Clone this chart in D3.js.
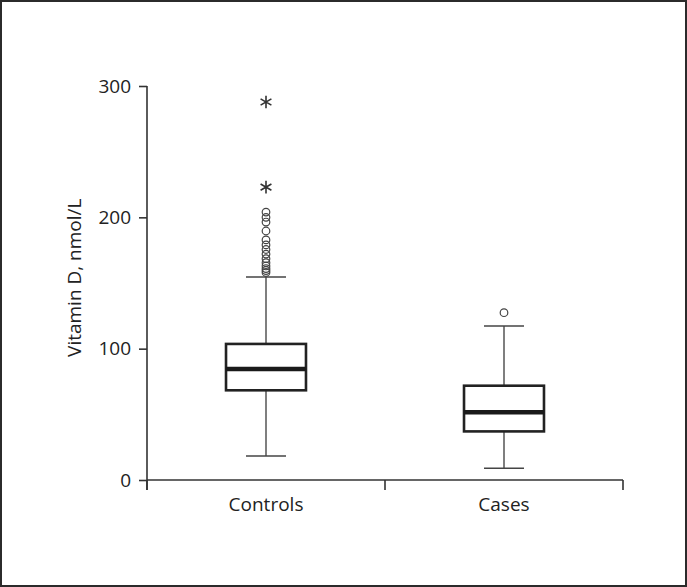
<!DOCTYPE html>
<html>
<head>
<meta charset="utf-8">
<script src="https://cdn.jsdelivr.net/npm/d3@7"></script>
<style>
html,body{margin:0;padding:0;background:#fff;}
svg{display:block;}
text{font-family:"Open Sans","Noto Sans",sans-serif;fill:#222;}
</style>
</head>
<body>
<svg id="chart" width="687" height="587"></svg>
<script>
const categories = ["Controls", "Cases"];
const q1Values = [68.3, 37.0];
const medianValues = [84.5, 51.5];
const q3Values = [103.6, 71.8];
const whiskerLowValues = [18.3, 8.9];
const whiskerHighValues = [154.6, 117.3];
const outlierValues = [
  [204, 200, 196.4, 189.6, 182.8, 179, 175.5, 172, 168.5, 165.5, 163, 161, 159.5, 158],
  [127.4]
];
const extremeValues = [
  [287.8, 223],
  []
];
const yTicks = [0, 100, 200, 300];
const yLabel = "Vitamin D, nmol/L";

const svg = d3.select("#chart");
const W = 687, H = 587;
const FONT = '"Open Sans","Noto Sans",sans-serif';

// frame
svg.append("rect").attr("x", 1).attr("y", 1).attr("width", W - 2).attr("height", H - 2)
  .attr("fill", "#fff").attr("stroke", "#2b2b2b").attr("stroke-width", 2);

const x = d3.scaleBand().domain(categories).range([147, 623]).padding(0);
const y = d3.scaleLinear().domain([0, 300]).range([480, 86]);

// y axis
const yAxis = svg.append("g").attr("transform", "translate(147,0)")
  .call(d3.axisLeft(y).tickValues(yTicks).tickSize(8).tickPadding(8));
yAxis.select(".domain").attr("stroke", "#333").attr("stroke-width", 1.6).attr("d", "M0,86V490");
yAxis.selectAll(".tick line").attr("stroke", "#333").attr("stroke-width", 1.6);
yAxis.selectAll(".tick text").attr("font-size", 19).attr("fill", "#222").style("font-family", FONT);

// x axis
const xAxis = svg.append("g").attr("transform", "translate(0,480)")
  .call(d3.axisBottom(x).tickSize(0).tickPadding(18));
xAxis.select(".domain").attr("stroke", "#333").attr("stroke-width", 1.6).attr("d", "M147,0H623");
xAxis.selectAll(".tick text").attr("font-size", 19).attr("fill", "#222").style("font-family", FONT);
// band boundary ticks
const boundaries = [x.range()[0], ...categories.map(c => x(c) + x.bandwidth())];
xAxis.selectAll(".bnd").data(boundaries).enter().append("line")
  .attr("x1", d => d).attr("x2", d => d).attr("y1", 0).attr("y2", 10)
  .attr("stroke", "#333").attr("stroke-width", 1.6);

// y label
svg.append("text")
  .attr("transform", `translate(81,${y(154)}) rotate(-90)`)
  .attr("text-anchor", "middle")
  .attr("font-size", 19)
  .text(yLabel);

const boxW = x.bandwidth() * 0.336;
const capW = boxW * 0.5;

categories.forEach((c, i) => {
  const cx = x(c) + x.bandwidth() / 2;
  const g = svg.append("g");
  // whiskers
  g.append("line").attr("x1", cx).attr("x2", cx).attr("y1", y(q3Values[i])).attr("y2", y(whiskerHighValues[i]))
    .attr("stroke", "#555").attr("stroke-width", 1.5);
  g.append("line").attr("x1", cx).attr("x2", cx).attr("y1", y(q1Values[i])).attr("y2", y(whiskerLowValues[i]))
    .attr("stroke", "#555").attr("stroke-width", 1.5);
  [whiskerHighValues[i], whiskerLowValues[i]].forEach(v => {
    g.append("line").attr("x1", cx - capW / 2).attr("x2", cx + capW / 2).attr("y1", y(v)).attr("y2", y(v))
      .attr("stroke", "#444").attr("stroke-width", 1.6);
  });
  // box
  g.append("rect").attr("x", cx - boxW / 2).attr("width", boxW)
    .attr("y", y(q3Values[i])).attr("height", y(q1Values[i]) - y(q3Values[i]))
    .attr("fill", "#fff").attr("stroke", "#222").attr("stroke-width", 2.6);
  // median
  g.append("line").attr("x1", cx - boxW / 2).attr("x2", cx + boxW / 2)
    .attr("y1", y(medianValues[i])).attr("y2", y(medianValues[i]))
    .attr("stroke", "#1a1a1a").attr("stroke-width", 4.5);
  // outliers
  g.selectAll(".out").data(outlierValues[i]).enter().append("circle")
    .attr("cx", cx).attr("cy", d => y(d)).attr("r", 3.8)
    .attr("fill", "none").attr("stroke", "#444").attr("stroke-width", 1.2);
  // extremes
  g.selectAll(".ext").data(extremeValues[i]).enter().append("path")
    .attr("transform", d => `translate(${cx},${y(d)})`)
    .attr("d", d3.symbol().type(d3.symbolAsterisk).size(110))
    .attr("fill", "none").attr("stroke", "#333").attr("stroke-width", 1.6);
});
</script>
</body>
</html>
